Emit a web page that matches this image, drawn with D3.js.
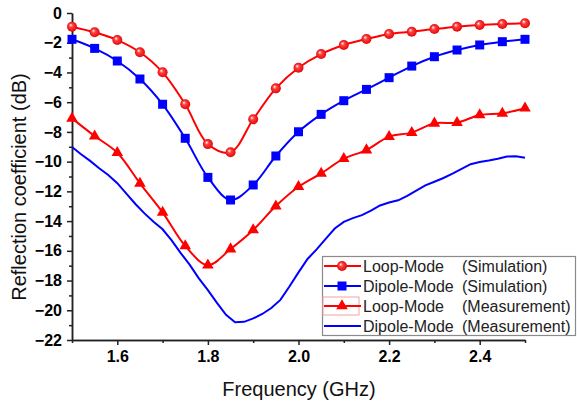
<!doctype html>
<html lang="en">
<head>
<meta charset="utf-8">
<title>Reflection coefficient</title>
<script src="https://cdnjs.cloudflare.com/ajax/libs/d3/7.8.5/d3.min.js"></script>
<style>
  body { margin: 0; background: #fff; }
  svg { display: block; font-family: Arial, "Liberation Sans", sans-serif; }
  .tick text { font-weight: bold; font-size: 16px; fill: #000; }
  .legend text { font-size: 16px; fill: #222; }
</style>
</head>
<body>
<script>

// simulated curves, sampled every 0.05 GHz
var simFreq = [1.5, 1.55, 1.6, 1.65, 1.7, 1.75, 1.8, 1.85, 1.9, 1.95, 2.0,
               2.05, 2.1, 2.15, 2.2, 2.25, 2.3, 2.35, 2.4, 2.45, 2.5];
var loopSim   = [-0.92, -1.30, -1.82, -2.64, -3.99, -6.14, -8.82, -9.37, -7.15, -5.07, -3.68,
                 -2.76, -2.15, -1.75, -1.41, -1.26, -1.08, -0.92, -0.81, -0.74, -0.69];
var dipoleSim = [-1.77, -2.38, -3.23, -4.44, -6.14, -8.43, -11.06, -12.58, -11.57, -9.62, -7.99,
                 -6.82, -5.90, -5.14, -4.35, -3.57, -2.94, -2.49, -2.15, -1.93, -1.77];
var loopMeas  = [-7.09, -8.28, -9.40, -11.46, -13.41, -15.67, -16.96, -15.88, -14.60, -12.99, -11.69,
                 -10.79, -9.80, -9.22, -8.32, -8.05, -7.42, -7.38, -6.86, -6.75, -6.41];

// dipole measurement, read every 0.02 GHz
var measFreq = [1.50, 1.52, 1.54, 1.56, 1.58, 1.60, 1.62, 1.64, 1.66, 1.68, 1.70,
                1.72, 1.74, 1.76, 1.78, 1.80, 1.82, 1.84, 1.86, 1.88, 1.90,
                1.92, 1.94, 1.96, 1.98, 2.00, 2.02, 2.04, 2.06, 2.08, 2.10,
                2.12, 2.14, 2.16, 2.18, 2.20, 2.22, 2.24, 2.26, 2.28, 2.30,
                2.32, 2.34, 2.36, 2.38, 2.40, 2.42, 2.44, 2.46, 2.48, 2.50];
var dipoleMeas = [-9.02, -9.50, -9.95, -10.45, -10.90, -11.45, -12.15, -12.85, -13.48, -14.05, -14.55,
                  -15.30, -16.15, -16.95, -17.85, -18.64, -19.50, -20.30, -20.80, -20.78, -20.55,
                  -20.25, -19.85, -19.30, -18.40, -17.45, -16.55, -15.90, -15.20, -14.50, -14.05,
                  -13.80, -13.60, -13.30, -12.95, -12.75, -12.60, -12.30, -11.95, -11.60, -11.35,
                  -11.10, -10.80, -10.48, -10.17, -10.02, -9.92, -9.80, -9.65, -9.64, -9.74];

var xMajor = [1.6, 1.8, 2.0, 2.2, 2.4];
var xMinor = [1.5, 1.7, 1.9, 2.1, 2.3, 2.5];
var yMajor = [-22, -20, -18, -16, -14, -12, -10, -8, -6, -4, -2, 0];
var yMinor = [-21, -19, -17, -15, -13, -11, -9, -7, -5, -3, -1];

var legendNames = ["Loop-Mode", "Dipole-Mode", "Loop-Mode", "Dipole-Mode"];
var legendKinds = ["(Simulation)", "(Simulation)", "(Measurement)", "(Measurement)"];

var width = 577, height = 402;
var RED = "#ff0000", BLUE = "#0000ff";

var svg = d3.select("body").append("svg")
    .attr("width", width)
    .attr("height", height);

svg.append("rect").attr("width", width).attr("height", height).attr("fill", "#fff");

// shiny ball marker
var grad = svg.append("defs").append("radialGradient")
    .attr("id", "ball").attr("cx", "50%").attr("cy", "50%").attr("r", "55%")
    .attr("fx", "35%").attr("fy", "32%");
grad.append("stop").attr("offset", "0%").attr("stop-color", "#ffffff");
grad.append("stop").attr("offset", "35%").attr("stop-color", "#ff4040");
grad.append("stop").attr("offset", "100%").attr("stop-color", "#e00000");

var x = d3.scaleLinear().domain([1.5, 2.5]).range([72, 525]);
var y = d3.scaleLinear().domain([-22, 0]).range([340, 13]);

// axes
function styleAxis(g) {
  g.selectAll("path.domain").attr("stroke", "#222").attr("stroke-width", 1.5);
  g.selectAll(".tick line").attr("stroke", "#222").attr("stroke-width", 1.5);
}

svg.append("g").attr("transform", "translate(0,340)")
  .call(d3.axisBottom(x).tickValues(xMinor).tickSize(3).tickSizeOuter(0).tickFormat(""))
  .call(styleAxis);
svg.append("g").attr("transform", "translate(0,340)")
  .call(d3.axisBottom(x).tickValues(xMajor).tickSize(5).tickSizeOuter(0).tickPadding(6).tickFormat(d3.format(".1f")))
  .call(styleAxis);

svg.append("g").attr("transform", "translate(72,0)")
  .call(d3.axisLeft(y).tickValues(yMinor).tickSize(3).tickSizeOuter(0).tickFormat(""))
  .call(styleAxis);
svg.append("g").attr("transform", "translate(72,0)")
  .call(d3.axisLeft(y).tickValues(yMajor).tickSize(5).tickSizeOuter(0).tickPadding(5))
  .call(styleAxis);

svg.selectAll(".tick text").attr("font-family", "Arial, 'Liberation Sans', sans-serif");

// titles
svg.append("text")
  .attr("transform", "translate(26,187) rotate(-90)")
  .attr("text-anchor", "middle")
  .attr("font-size", 20)
  .attr("fill", "#111")
  .text("Reflection coefficient (dB)");

svg.append("text")
  .attr("x", 299).attr("y", 396)
  .attr("text-anchor", "middle")
  .attr("font-size", 20)
  .attr("fill", "#111")
  .text("Frequency (GHz)");

// lines
var smooth = d3.line().x(d => x(d[0])).y(d => y(d[1])).curve(d3.curveCatmullRom.alpha(0.5));
var plain = d3.line().x(d => x(d[0])).y(d => y(d[1]));

function pairs(xs, ys) { return xs.map((f, i) => [f, ys[i]]); }

var loopSimPts = pairs(simFreq, loopSim);
var dipoleSimPts = pairs(simFreq, dipoleSim);
var loopMeasPts = pairs(simFreq, loopMeas);
var dipoleMeasPts = pairs(measFreq, dipoleMeas);

svg.append("path").datum(dipoleMeasPts).attr("d", plain)
  .attr("fill", "none").attr("stroke", BLUE).attr("stroke-width", 2);
svg.append("path").datum(loopMeasPts).attr("d", smooth)
  .attr("fill", "none").attr("stroke", RED).attr("stroke-width", 2);
svg.append("path").datum(dipoleSimPts).attr("d", smooth)
  .attr("fill", "none").attr("stroke", BLUE).attr("stroke-width", 2);
svg.append("path").datum(loopSimPts).attr("d", smooth)
  .attr("fill", "none").attr("stroke", RED).attr("stroke-width", 2);

var square = d3.symbol().type(d3.symbolSquare).size(81);
var triangle = d3.symbol().type(d3.symbolTriangle).size(58);

svg.append("g").selectAll("path").data(loopMeasPts).join("path")
  .attr("d", triangle)
  .attr("transform", d => "translate(" + x(d[0]) + "," + y(d[1]) + ")")
  .attr("fill", RED);

svg.append("g").selectAll("path").data(dipoleSimPts).join("path")
  .attr("d", square)
  .attr("transform", d => "translate(" + x(d[0]) + "," + y(d[1]) + ")")
  .attr("fill", BLUE);

svg.append("g").selectAll("circle").data(loopSimPts).join("circle")
  .attr("cx", d => x(d[0])).attr("cy", d => y(d[1])).attr("r", 5)
  .attr("fill", "url(#ball)");

// legend
var lg = svg.append("g").attr("class", "legend");
lg.append("rect").attr("x", 322.5).attr("y", 256.5).attr("width", 253).attr("height", 79)
  .attr("fill", "#fff").attr("stroke", "#8a8a8a").attr("stroke-width", 1.2);

var rowY = [266, 286, 306, 326];
var rowColor = [RED, BLUE, RED, BLUE];

// faint selection frame left on the third sample in the original
lg.append("rect").attr("x", 323).attr("y", 297).attr("width", 36).attr("height", 18)
  .attr("fill", "none").attr("stroke", "#f4a0a0").attr("stroke-width", 1);

rowY.forEach(function(ry, i) {
  lg.append("line").attr("x1", 324).attr("x2", 361).attr("y1", ry).attr("y2", ry)
    .attr("stroke", rowColor[i]).attr("stroke-width", 2);
  if (i === 0) {
    lg.append("circle").attr("cx", 342).attr("cy", ry).attr("r", 5).attr("fill", "url(#ball)");
  } else if (i === 1) {
    lg.append("path").attr("d", square).attr("transform", "translate(342," + ry + ")").attr("fill", BLUE);
  } else if (i === 2) {
    lg.append("path").attr("d", triangle).attr("transform", "translate(342," + ry + ")").attr("fill", RED);
  }
  var t = lg.append("text").attr("y", ry + 6);
  t.append("tspan").attr("x", 363).text(legendNames[i]);
  t.append("tspan").attr("x", 462).text(legendKinds[i]);
});

</script>
</body>
</html>
